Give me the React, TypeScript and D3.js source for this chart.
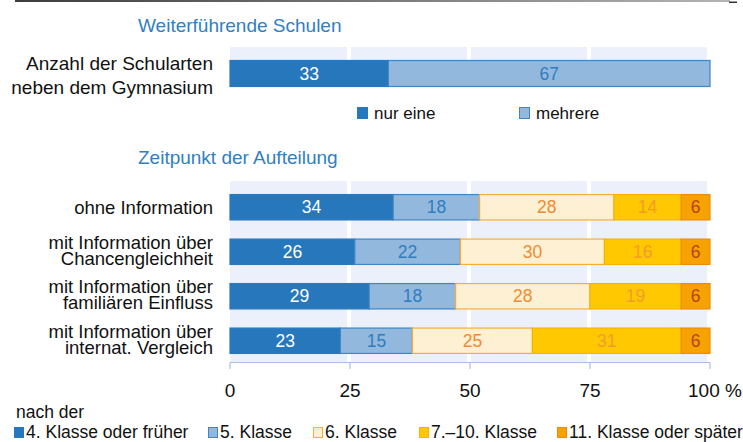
import React from "react";
import * as d3 from "d3";

const topCategories = ["Anzahl der Schularten|neben dem Gymnasium"];
const topSeries = ["nur eine", "mehrere"];
const topValues = [[33, 67]];

const categories = [
  "ohne Information",
  "mit Information über|Chancengleichheit",
  "mit Information über|familiären Einfluss",
  "mit Information über|internat. Vergleich",
];
const seriesNames = ["4. Klasse oder früher", "5. Klasse", "6. Klasse", "7.–10. Klasse", "11. Klasse oder später"];
const values = [
  [34, 18, 28, 14, 6],
  [26, 22, 30, 16, 6],
  [29, 18, 28, 19, 6],
  [23, 15, 25, 31, 6],
];
const tickValues = [0, 25, 50, 75, 100];
const tickLabels = ["0", "25", "50", "75", "100 %"];

const fills = ["#2777bd", "#93b8dd", "#fef0d2", "#ffc800", "#f6a200"];
const strokes = ["#2a78be", "#3d86c8", "#f7ad3a", "#f5b400", "#ee8a10"];
const textCols = ["#ffffff", "#2e7ebf", "#f08a32", "#f39c2c", "#b8421c"];

const FONT = "'Liberation Sans', Arial, sans-serif";
const BLUE = "#2f80c4";

function stackRows(rows: number[][]) {
  return rows.map((r) => {
    const c = d3.cumsum(r);
    return r.map((v, i) => ({ v, x0: c[i] - v, x1: c[i], i }));
  });
}

export default function App() {
  const W = 743, H = 442;
  const x = d3.scaleLinear().domain([0, 100]).range([230, 710]);
  const yTop = d3.scaleBand<string>().domain(topCategories).range([60.5, 86.5]).padding(0);
  const y = d3.scaleBand<string>().domain(categories).range([185, 363]).paddingInner(0.43).paddingOuter(0.215);

  const topStack = stackRows(topValues);
  const stack = stackRows(values);

  const bg = (y0: number, y1: number) => (
    <g>
      <rect x={x(0)} y={y0} width={x(100) - x(0) - 3} height={y1 - y0} fill="#ecf0fa" />
      {[25, 50, 75].map((t) => (
        <line key={t} x1={x(t) - 1} x2={x(t) - 1} y1={y0} y2={y1} stroke="#ffffff" strokeWidth={4} />
      ))}
    </g>
  );

  return (
    <svg width={W} height={H} style={{ position: "absolute", left: 0, top: 0 }} fontFamily={FONT}>
      <defs>
        <linearGradient id="topline" x1="0" x2="1" y1="0" y2="0">
          <stop offset="0" stopColor="#3c3c3c" />
          <stop offset="1" stopColor="#b4b4b4" />
        </linearGradient>
      </defs>
      <rect x={15} y={0} width={715} height={2} fill="url(#topline)" />
      <rect x={729} y={1.5} width={8} height={1.5} fill="#333" />

      <text x={138} y={32} fontSize={19} fill={BLUE}>Weiterführende Schulen</text>
      <text x={138} y={164} fontSize={19} fill={BLUE}>Zeitpunkt der Aufteilung</text>

      {bg(47, 87)}
      {bg(181, 362.5)}

      {/* top panel */}
      {topCategories.map((c, ri) => {
        const by = yTop(c)!;
        const bh = yTop.bandwidth();
        const lines = c.split("|");
        return (
          <g key={c}>
            {lines.map((l, li) => (
              <text key={li} x={213} y={69.5 + li * 24} fontSize={19} textAnchor="end" fill="#111">{l}</text>
            ))}
            {topStack[ri].map((s) => (
              <g key={s.i}>
                <rect x={x(s.x0)} y={by} width={x(s.x1) - x(s.x0)} height={bh} fill={fills[s.i]} stroke={strokes[s.i]} strokeWidth={1.2} />
                <text x={(x(s.x0) + x(s.x1)) / 2} y={by + bh / 2} dy="0.35em" textAnchor="middle" fontSize={17.5} fill={textCols[s.i]}>{s.v}</text>
              </g>
            ))}
          </g>
        );
      })}

      {/* top legend */}
      {topSeries.map((s, i) => {
        const lx = [357, 519][i];
        return (
          <g key={s}>
            <rect x={lx + 0.5} y={107.5} width={10} height={11} fill={fills[i]} stroke={strokes[i]} />
            <text x={lx + 17} y={119} fontSize={17} fill="#111">{s}</text>
          </g>
        );
      })}

      {/* main panel */}
      {categories.map((c, ri) => {
        const by = y(c)!;
        const bh = y.bandwidth();
        const cy = by + bh / 2;
        const lines = c.split("|");
        return (
          <g key={c}>
            {lines.map((l, li) => (
              <text key={li} x={213} y={lines.length === 1 ? cy + 6.5 : cy - 9.3 + li * 15.7 + 6.5} fontSize={18.5} textAnchor="end" fill="#111">{l}</text>
            ))}
            {stack[ri].map((s) => (
              <g key={s.i}>
                <rect x={x(s.x0)} y={by} width={x(s.x1) - x(s.x0)} height={bh} fill={fills[s.i]} stroke={strokes[s.i]} strokeWidth={1.2} />
                <text x={(x(s.x0) + x(s.x1)) / 2} y={cy} dy="0.35em" textAnchor="middle" fontSize={17.5} fill={textCols[s.i]}>{s.v}</text>
              </g>
            ))}
          </g>
        );
      })}

      {/* axis */}
      <line x1={x(0)} x2={x(100)} y1={362.5} y2={362.5} stroke="#a9bde6" strokeWidth={1.2} />
      {tickValues.map((t, i) => (
        <g key={t}>
          <line x1={x(t)} x2={x(t)} y1={362.5} y2={369} stroke="#a9bde6" strokeWidth={1.2} />
          <text x={i === 4 ? x(t) - 22 : x(t)} y={397} fontSize={19} textAnchor={i === 4 ? "start" : "middle"} fill="#111">{tickLabels[i]}</text>
        </g>
      ))}

      {/* bottom legend */}
      <text x={16} y={418} fontSize={17.5} fill="#111">nach der</text>
      {seriesNames.map((s, i) => {
        const lx = [14, 208, 313, 419, 557][i];
        return (
          <g key={s}>
            <rect x={lx + 0.5} y={427.5} width={9} height={10} fill={fills[i]} stroke={strokes[i]} />
            <text x={lx + 12} y={438} fontSize={17.5} fill="#111">{s}</text>
          </g>
        );
      })}
    </svg>
  );
}
